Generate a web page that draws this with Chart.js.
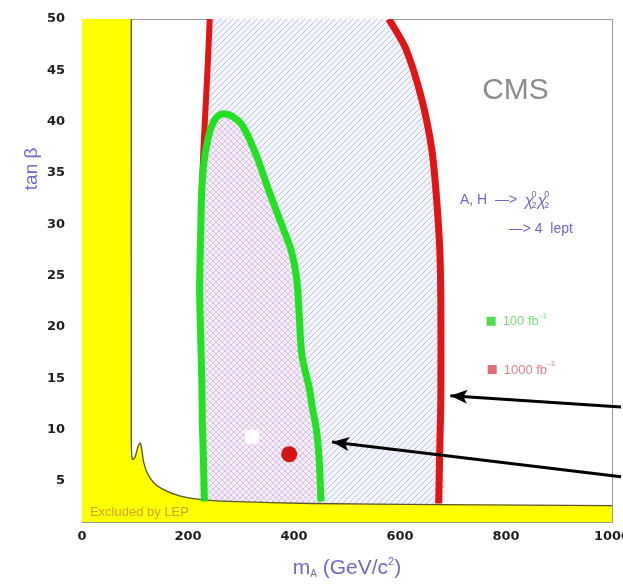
<!DOCTYPE html>
<html>
<head>
<meta charset="utf-8">
<title>CMS reach A,H → χ2χ2 → 4 leptons</title>
<script src="https://cdn.jsdelivr.net/npm/chart.js@4.4.0/dist/chart.umd.min.js"></script>
<style>
  html, body { margin: 0; padding: 0; background: #fff; }
  canvas { display: block; }
</style>
</head>
<body>
<canvas id="reach" width="623" height="586"></canvas>
<script>
// axis ticks
const xTicks = [0, 200, 400, 600, 800, 1000];
const yTicks = [5, 10, 15, 20, 25, 30, 35, 40, 45, 50];

// LEP excluded region boundary (m_A, tan beta)
const lepMass = [93, 93, 95, 100, 106, 110, 113, 116, 122, 134, 152, 184, 222, 278, 434, 673, 1000];
const lepTanB = [50, 9.0, 7.1, 7.3, 8.4, 8.7, 8.0, 6.9, 5.9, 4.9, 4.2, 3.55, 3.2, 3.0, 2.8, 2.7, 2.6];

// 100 fb-1 contour (green), from bottom left round to bottom right
const greenMass = [231, 229, 227, 226, 224, 222, 224, 226, 231, 241, 252, 265, 282, 303, 329, 353, 378, 395, 405, 410, 415, 429, 434, 442, 447, 451];
const greenTanB = [3.0, 7.2, 10.8, 14.9, 18.8, 23.7, 29.3, 33.4, 36.4, 39.0, 40.3, 40.75, 40.55, 39.6, 36.7, 33.2, 29.8, 27.4, 24.7, 21.0, 17.2, 14.0, 12.3, 10.1, 7.45, 3.0];

// 1000 fb-1 contour (red): left branch and right branch, top to bottom
const redLeftMass = [241, 236, 230, 226];
const redLeftTanB = [50, 44.2, 38.3, 33.4];
const redRightMass = [579, 611, 641, 660, 669, 675, 677, 677, 675, 673];
const redRightTanB = [50, 47.1, 42.2, 37.3, 32.5, 27.6, 22.7, 13.0, 8.1, 2.8];

// benchmark points
const dotMass = [391];
const dotTanB = [7.6];
const patchMass = [321];
const patchTanB = [9.3];

// arrows (tail, tip)
const arrow1Mass = [1017, 695];
const arrow1TanB = [12.2, 13.3];
const arrow2Mass = [1017, 472];
const arrow2TanB = [5.4, 8.8];

const pts = (ms, ts) => ms.map((m, i) => ({ x: m, y: ts[i] }));

function hatch(bg, lines) {
  const s = 6;
  const c = document.createElement('canvas');
  c.width = s; c.height = s;
  const g = c.getContext('2d');
  g.fillStyle = bg;
  g.fillRect(0, 0, s, s);
  lines.forEach(([col, dir]) => {
    g.strokeStyle = col;
    g.lineWidth = 1;
    g.beginPath();
    if (dir > 0) {
      g.moveTo(-1, s + 1); g.lineTo(s + 1, -1);
      g.moveTo(-1, 1); g.lineTo(1, -1);
      g.moveTo(s - 1, s + 1); g.lineTo(s + 1, s - 1);
    } else {
      g.moveTo(-1, -1); g.lineTo(s + 1, s + 1);
      g.moveTo(s - 1, -1); g.lineTo(s + 1, 1);
      g.moveTo(-1, s - 1); g.lineTo(1, s + 1);
    }
    g.stroke();
  });
  return g.createPattern(c, 'repeat');
}

const blueHatch = hatch('#f3f5fb', [['#b9c4e4', 1]]);
const pinkHatch = hatch('#f7edf7', [['#c4cbe8', 1], ['#ebb6eb', -1]]);

const lepPts = pts(lepMass, lepTanB);
const yellowPoly = [{ x: 0, y: 1 }, { x: 0, y: 50 }, ...lepPts, { x: 1000, y: 1 }];
const greenPts = pts(greenMass, greenTanB);
const redLeftPts = pts(redLeftMass, redLeftTanB);
const redRightPts = pts(redRightMass, redRightTanB);
const redPoly = [...redLeftPts, ...greenPts.slice(0, 7).reverse(), ...redRightPts.slice().reverse()];

const textFont = '"Liberation Sans", Arial, sans-serif';

const overlay = {
  id: 'overlay',
  beforeDatasetsDraw(chart) {
    const { ctx, chartArea: a } = chart;
    ctx.save();
    ctx.strokeStyle = '#9a9a9a';
    ctx.lineWidth = 1;
    ctx.strokeRect(a.left + 0.5, a.top + 0.5, a.right - a.left, a.bottom - a.top);
    ctx.restore();
  },
  afterDatasetsDraw(chart) {
    const { ctx, chartArea: a, scales } = chart;
    const px = v => scales.x.getPixelForValue(v);
    const py = v => scales.y.getPixelForValue(v);

    // arrow heads
    chart.data.datasets.forEach((ds, i) => {
      if (!ds.arrow) return;
      const p = chart.getDatasetMeta(i).data;
      const t = p[p.length - 1], f = p[p.length - 2];
      const ang = Math.atan2(t.y - f.y, t.x - f.x);
      ctx.save();
      ctx.translate(t.x, t.y);
      ctx.rotate(ang);
      ctx.fillStyle = '#000';
      ctx.beginPath();
      ctx.moveTo(0, 0);
      ctx.lineTo(-17, -7);
      ctx.lineTo(-13, 0);
      ctx.lineTo(-17, 7);
      ctx.closePath();
      ctx.fill();
      ctx.restore();
    });

    ctx.save();
    ctx.textBaseline = 'alphabetic';

    // CMS
    ctx.fillStyle = '#8c8c8c';
    ctx.font = '30px ' + textFont;
    ctx.textAlign = 'center';
    ctx.fillText('CMS', px(818), py(42.2));

    // process
    ctx.textAlign = 'left';
    ctx.fillStyle = '#6a6ac4';
    let x = px(713);
    let y = py(32.0);
    ctx.font = '14px ' + textFont;
    ctx.fillText('A, H  \u2014>  ', x, y);
    x += ctx.measureText('A, H  \u2014>  ').width;
    for (let k = 0; k < 2; k++) {
      ctx.font = 'italic 16px ' + textFont;
      ctx.fillText('\u03C7', x, y + 2);
      const w = ctx.measureText('\u03C7').width;
      ctx.font = '9px ' + textFont;
      ctx.fillText('0', x + w - 2, y - 7);
      ctx.fillText('2', x + w - 2, y + 4);
      x += w + 4;
    }
    ctx.font = '14px ' + textFont;
    ctx.fillText('\u2014> 4  lept', px(805), py(29.2));

    // legend
    const item = (m, t, sq, col, label) => {
      ctx.fillStyle = sq;
      ctx.fillRect(px(m) - 4, py(t) - 4, 9, 9);
      ctx.fillStyle = col;
      ctx.font = '13px ' + textFont;
      ctx.textBaseline = 'middle';
      ctx.fillText(label, px(m) + 12, py(t) + 1);
      const w = ctx.measureText(label).width;
      ctx.font = '8px ' + textFont;
      ctx.fillText('-1', px(m) + 13 + w, py(t) - 5);
      ctx.textBaseline = 'alphabetic';
    };
    item(771, 20.6, '#4fdc4f', '#78df78', '100 fb');
    item(773, 15.9, '#e46a7a', '#e0808c', '1000 fb');

    // excluded label
    ctx.fillStyle = '#d2a22e';
    ctx.font = '13px ' + textFont;
    ctx.fillText('Excluded by LEP', px(15), py(1.55));

    // y title
    ctx.save();
    ctx.translate(a.left - 50, py(35.4));
    ctx.rotate(-Math.PI / 2);
    ctx.textAlign = 'center';
    ctx.textBaseline = 'middle';
    ctx.fillStyle = '#6b6bd2';
    ctx.font = '19px ' + textFont;
    ctx.fillText('tan \u03B2', 0, 0);
    ctx.restore();

    // x title  m_A (GeV/c^2)
    const parts = [
      ['m', '21px', 0],
      ['A', '10px', 3],
      [' (GeV/c', '21px', 0],
      ['2', '11px', -9],
      [')', '21px', 0]
    ];
    let tw = 0;
    parts.forEach(p => { ctx.font = p[1] + ' ' + textFont; tw += ctx.measureText(p[0]).width; });
    let tx = (a.left + a.right) / 2 - tw / 2;
    const ty = a.bottom + 52;
    ctx.fillStyle = '#6b6bc8';
    parts.forEach(p => {
      ctx.font = p[1] + ' ' + textFont;
      ctx.fillText(p[0], tx, ty + p[2]);
      tx += ctx.measureText(p[0]).width;
    });
    ctx.restore();
  }
};

const tickFont = { family: '"DejaVu Sans"', weight: 'bold', size: 13 };

new Chart(document.getElementById('reach'), {
  type: 'scatter',
  data: {
    datasets: [
      { data: redPoly, showLine: true, fill: 'shape', backgroundColor: blueHatch, borderWidth: 0, pointRadius: 0, tension: 0.3, order: 20 },
      { data: greenPts, showLine: true, fill: 'shape', backgroundColor: pinkHatch, borderWidth: 0, pointRadius: 0, tension: 0.3, order: 19 },
      { data: yellowPoly, showLine: true, fill: 'shape', backgroundColor: '#ffff00', borderWidth: 0, pointRadius: 0, tension: 0, order: 18 },
      { data: lepPts, showLine: true, borderColor: '#5e5230', borderWidth: 1.3, pointRadius: 0, tension: 0.2, order: 17 },
      { data: redLeftPts, showLine: true, borderColor: '#e01515', borderWidth: 6, pointRadius: 0, tension: 0.3, order: 16 },
      { data: redRightPts, showLine: true, borderColor: '#e01515', borderWidth: 7, pointRadius: 0, tension: 0.3, order: 15 },
      { data: greenPts, showLine: true, borderColor: '#22e022', borderWidth: 7, pointRadius: 0, tension: 0.3, order: 14 },
      { data: pts(patchMass, patchTanB), pointStyle: 'rect', pointRadius: 10, backgroundColor: 'rgba(255,255,255,0.9)', borderWidth: 0, order: 13 },
      { data: pts(dotMass, dotTanB), pointStyle: 'circle', pointRadius: 8, backgroundColor: '#d21414', borderWidth: 0, order: 12 },
      { data: pts(arrow1Mass, arrow1TanB), arrow: true, showLine: true, borderColor: '#000', borderWidth: 3, pointRadius: 0, clip: false, order: 11 },
      { data: pts(arrow2Mass, arrow2TanB), arrow: true, showLine: true, borderColor: '#000', borderWidth: 3, pointRadius: 0, clip: false, order: 10 }
    ]
  },
  options: {
    responsive: false,
    animation: false,
    events: [],
    layout: { padding: { top: 19, right: 11, left: 0, bottom: 0 } },
    plugins: { legend: { display: false }, tooltip: { enabled: false } },
    scales: {
      x: {
        type: 'linear', min: 0, max: 1000,
        afterBuildTicks: s => { s.ticks = xTicks.map(v => ({ value: v })); },
        afterFit: s => { s.height = 64; s.paddingRight = 0; s.paddingLeft = 0; },
        grid: { display: false, drawTicks: false },
        border: { display: false },
        ticks: { padding: 7, color: '#1e1e1e', font: tickFont, callback: v => String(v) }
      },
      y: {
        type: 'linear', min: 1, max: 50,
        afterBuildTicks: s => { s.ticks = yTicks.map(v => ({ value: v })); },
        afterFit: s => { s.width = 82; s.paddingTop = 0; s.paddingBottom = 0; },
        grid: { display: false, drawTicks: false },
        border: { display: false },
        ticks: { padding: 17, color: '#1e1e1e', font: tickFont, callback: v => String(v) }
      }
    }
  },
  plugins: [overlay]
});
</script>
</body>
</html>
